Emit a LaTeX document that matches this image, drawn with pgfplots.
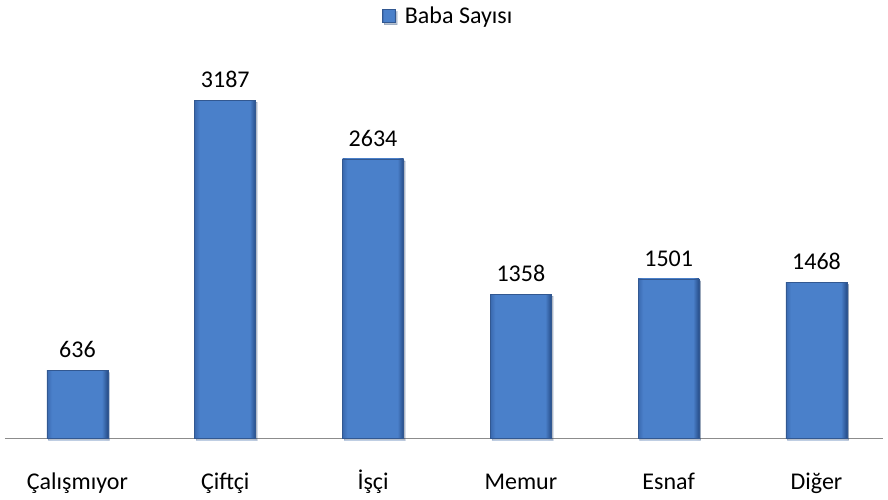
\documentclass[border=0pt]{standalone}
\usepackage{pgfplots}
\pgfplotsset{compat=1.18}
\usepackage{fontspec}
\setmainfont{Carlito}
\definecolor{barM}{RGB}{74,128,202}
\definecolor{barL}{RGB}{58,105,175}
\definecolor{barD}{RGB}{38,76,135}
\definecolor{barEdge}{RGB}{50,88,145}
\definecolor{axisgray}{RGB}{140,140,140}
\pgfdeclarehorizontalshading{barshade}{100bp}{color(0bp)=(barL); color(25bp)=(barL); color(29bp)=(barM); color(70bp)=(barM); color(75bp)=(barD); color(100bp)=(barD)}
\pgfplotsset{mybar/.style={draw=barEdge, line width=0.5pt, shade, shading=barshade,
  preaction={fill=black, opacity=0.18, transform canvas={xshift=1.5pt, yshift=-2pt}}}}
\begin{document}
\begin{tikzpicture}
\path[use as bounding box] (-5pt,-61pt) rectangle (883pt,438pt);
\begin{axis}[
  scale only axis,
  width=878pt, height=371pt,
  xmin=-0.49, xmax=5.45,
  ymin=0, ymax=3500,
  axis y line=none,
  axis x line*=bottom,
  x axis line style={draw=axisgray, line width=1pt, -},
  xtick={0,1,2,3,4,5},
  xticklabels={Çalışmıyor,Çiftçi,İşçi,Memur,Esnaf,Diğer},
  major tick length=0pt,
  xticklabel style={font=\fontsize{24}{28}\selectfont, anchor=base, yshift=-51pt},
  ybar, bar width=61pt, bar shift=0pt,
  /pgf/number format/.cd, 1000 sep={}, assume math mode=true, /pgfplots/.cd,
  nodes near coords,
  every node near coord/.append style={font=\fontsize{24}{28}\selectfont, yshift=9pt},
  legend style={at={(0.505,1.137)}, anchor=center, draw=none, font=\fontsize{24}{28}\selectfont, inner sep=0pt},
  legend image code/.code={\draw[draw=barEdge, shade, shading=barshade] (0pt,-6.5pt) rectangle (13pt,6.5pt); \path (20pt,0pt);},
  clip=false,
]
\addplot[mybar] coordinates {(0,636)};
\addlegendentry{Baba Sayısı}
\addplot[forget plot, mybar] coordinates {(1,3187)};
\addplot[forget plot, mybar] coordinates {(2,2634)};
\addplot[forget plot, mybar] coordinates {(3,1358)};
\addplot[forget plot, mybar] coordinates {(4,1501)};
\addplot[forget plot, mybar] coordinates {(5,1468)};
\end{axis}
\end{tikzpicture}
\end{document}
